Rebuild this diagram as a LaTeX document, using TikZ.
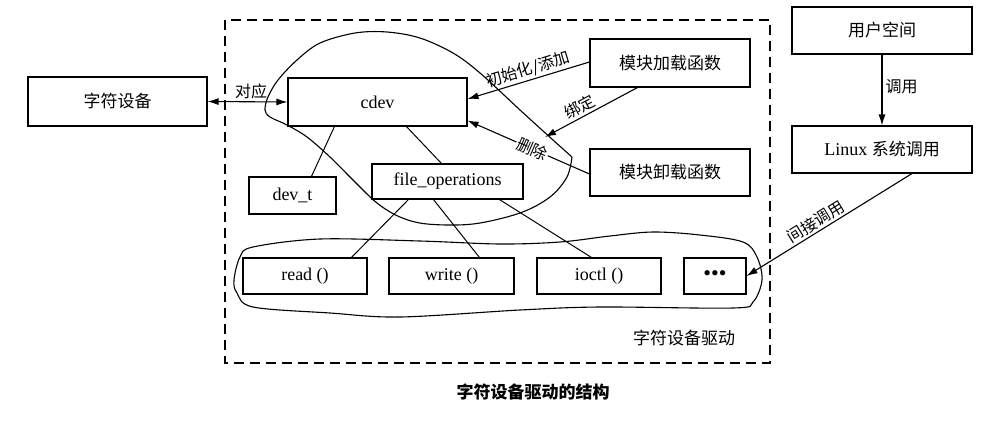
\documentclass[tikz,border=0pt]{standalone}
\usepackage{fontspec}
\setmainfont{Liberation Serif}
\newfontfamily\cjk{Noto Sans CJK SC}
\usetikzlibrary{arrows.meta,calc}
\begin{document}
\begin{tikzpicture}[x=1pt,y=-1pt,
  box/.style={draw, line width=1.1pt, inner sep=0pt, font=\fontsize{18}{20}\selectfont},
  cbox/.style={box, font=\cjk\fontsize{17}{20}\selectfont},
  lab/.style={font=\cjk\fontsize{16}{18}\selectfont, inner sep=2pt},
  arr/.style={-{Latex[length=11pt,width=7pt]}, line width=1.1pt},
  ln/.style={line width=1pt}]
\useasboundingbox (0,0) rectangle (1002,421);
\fill[white] (0,0) rectangle (1002,421);

% dashed driver frame
\draw[line width=1.7pt, dash pattern=on 10pt off 6pt] (225,20) rectangle (770,363);
\node[lab, font=\cjk\fontsize{17}{20}\selectfont] (drvlab) at (684,338) {字符设备驱动};
\node[font=\cjk\bfseries\fontsize{17}{20}\selectfont] (cap) at (533,392) {字符设备驱动的结构};

% boxes
\node[cbox, minimum width=179pt, minimum height=49pt] (chardev) at (117.5,101.5) {字符设备};
\node[box, minimum width=179pt, minimum height=48pt] (cdev) at (377.5,102) {cdev};
\node[box, minimum width=87pt, minimum height=37pt] (devt) at (292.5,195.5) {dev\_t};
\node[box, minimum width=151pt, minimum height=35pt] (fops) at (447.5,181.5) {file\_operations};
\node[cbox, minimum width=160pt, minimum height=48pt] (load) at (670,63) {模块加载函数};
\node[cbox, minimum width=160pt, minimum height=47pt] (unload) at (670,172.5) {模块卸载函数};
\node[cbox, minimum width=180pt, minimum height=47pt] (user) at (882,30.5) {用户空间};
\node[box, minimum width=180pt, minimum height=47pt] (linux) at (882,149.5) {Linux {\cjk\fontsize{17}{20}\selectfont 系统调用}};
\node[box, minimum width=124pt, minimum height=36pt] (read) at (305,276) {read ()};
\node[box, minimum width=125pt, minimum height=36pt] (write) at (451.5,276) {write ()};
\node[box, minimum width=124pt, minimum height=36pt] (ioctl) at (599,276) {ioctl ()};
\node[box, minimum width=62pt, minimum height=36pt, font=\fontsize{22}{22}\selectfont] (dots) at (715,276) {•••};

% connectors
\draw[{Latex[length=11pt,width=7pt]}-{Latex[length=11pt,width=7pt]}, line width=1.1pt] (chardev.east) -- node[lab, above, pos=0.52, xshift=2pt] {对应} (cdev.west);
\draw[ln] ($(cdev.south west)+(47,0)$) -- ($(devt.north west)+(63,0)$);
\draw[ln] ($(cdev.south west)+(119,0)$) -- ($(fops.north west)+(70,0)$);
\draw[ln] ($(fops.south west)+(37,0)$) -- ($(read.north west)+(109,0)$);
\draw[ln] ($(fops.south west)+(62,0)$) -- ($(write.north west)+(91,0)$);
\draw[ln] ($(fops.south west)+(128,0)$) -- ($(ioctl.north west)+(55,0)$);

\draw[arr] ($(load.west)+(0,-1)$) -- node[lab, sloped, above, pos=0.48] {初始化/添加} ($(cdev.east)+(0,-3)$);
\coordinate (bindpt) at (545,137);
\draw[arr] ($(load.south west)+(48,0)$) -- node[lab, sloped, above, pos=0.57] {绑定} (bindpt);
\draw[arr] ($(unload.west)+(0,1.5)$) -- node[lab, sloped, fill=white, pos=0.47, inner sep=1pt] {删除} ($(cdev.south east)+(0,-6)$);

\draw[arr] (user.south) -- node[lab, right, pos=0.45, xshift=1pt] {调用} (linux.north);
\draw[arr] ($(linux.south)+(30,0)$) -- node[lab, sloped, above, pos=0.55] {间接调用} (dots.east);

% blobs
\draw[line width=1.1pt] plot[smooth, tension=0.55] coordinates {
 (572,157) (553,140) (520,110) (480,73) (453,53) (420,38) (387,32) (355,33)
 (320,43) (297,60) (278,80) (268,97) (265,110) (270,117) (287,125) (307,137)
 (330,157) (353,180) (377,203) (400,217) (427,224) (473,224) (520,213)
 (550,197) (567,177) (572,157)};
\draw[line width=1.1pt] plot[smooth cycle, tension=0.55] coordinates {
 (234,280) (240,257) (253,247) (320,239) (420,241) (500,244) (560,242)
 (610,236) (653,232) (700,235) (743,242) (757,257) (762,280) (753,302)
 (733,308) (600,307) (520,310) (400,317) (330,313) (253,307) (237,293)};
\end{tikzpicture}
\end{document}
